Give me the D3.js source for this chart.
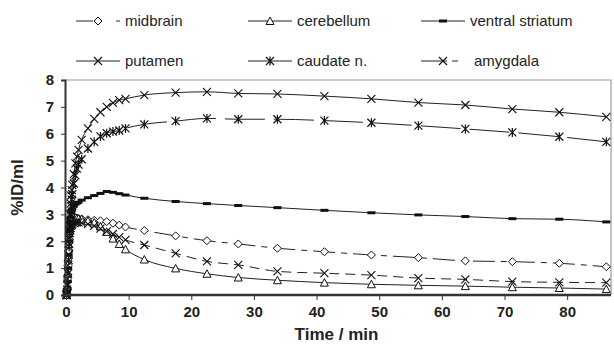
<!DOCTYPE html>
<html>
<head>
<meta charset="utf-8">
<script src="https://cdn.jsdelivr.net/npm/d3@7"></script>
<style>
  body { margin: 0; background: #fff; }
  svg { display: block; font-family: Arial, "Liberation Sans", sans-serif; }
</style>
</head>
<body>
<div id="chart"></div>
<script>
// frame mid-times in minutes
const times = [0.08, 0.17, 0.25, 0.33, 0.42, 0.5, 0.58, 0.67, 0.75, 0.83, 0.92, 1.0,
  1.25, 1.5, 1.75, 2.0, 2.5, 3.5, 4.5, 5.5, 6.5, 7.5, 8.5, 9.5,
  12.5, 17.5, 22.5, 27.5, 33.75, 41.25, 48.75, 56.25, 63.75, 71.25, 78.75, 86.25];

const midbrain = [0, 0.2, 0.6, 1.1, 1.6, 2.0, 2.3, 2.5, 2.65, 2.75, 2.8, 2.82,
  2.85, 2.85, 2.85, 2.84, 2.83, 2.8, 2.78, 2.76, 2.73, 2.67, 2.6, 2.53,
  2.4, 2.2, 2.02, 1.9, 1.74, 1.61, 1.49, 1.39, 1.27, 1.24, 1.18, 1.05];

const cerebellum = [0, 0.3, 0.8, 1.4, 1.9, 2.3, 2.6, 2.8, 2.9, 2.95, 2.95, 2.93,
  2.9, 2.88, 2.86, 2.84, 2.82, 2.76, 2.7, 2.55, 2.35, 2.1, 1.9, 1.7,
  1.32, 0.99, 0.79, 0.65, 0.55, 0.46, 0.4, 0.36, 0.33, 0.29, 0.26, 0.22];

const ventralStriatum = [0, 0.15, 0.5, 1.0, 1.5, 2.0, 2.4, 2.7, 2.9, 3.05, 3.15, 3.2,
  3.3, 3.38, 3.42, 3.45, 3.53, 3.62, 3.7, 3.78, 3.85, 3.82, 3.77, 3.72,
  3.6, 3.48, 3.4, 3.33, 3.25, 3.15, 3.06, 2.98, 2.92, 2.84, 2.82, 2.72];

const putamen = [0, 0.1, 0.4, 0.9, 1.5, 2.1, 2.6, 3.0, 3.4, 3.7, 3.9, 4.1,
  4.5, 4.9, 5.15, 5.4, 5.77, 6.2, 6.55, 6.8, 7.0, 7.15, 7.25, 7.3,
  7.44, 7.53, 7.56, 7.5, 7.48, 7.4, 7.3, 7.16, 7.07, 6.92, 6.8, 6.63];

const caudate = [0, 0.1, 0.35, 0.8, 1.3, 1.8, 2.3, 2.7, 3.0, 3.3, 3.55, 3.75,
  4.15, 4.45, 4.7, 4.85, 5.05, 5.45, 5.7, 5.9, 6.02, 6.08, 6.12, 6.2,
  6.35, 6.47, 6.57, 6.54, 6.54, 6.49, 6.41, 6.3, 6.18, 6.05, 5.89, 5.7];

const amygdala = [0, 0.2, 0.6, 1.1, 1.5, 1.9, 2.2, 2.4, 2.5, 2.58, 2.62, 2.65,
  2.68, 2.7, 2.7, 2.7, 2.68, 2.64, 2.57, 2.47, 2.37, 2.27, 2.15, 2.05,
  1.86, 1.55, 1.25, 1.12, 0.88, 0.81, 0.74, 0.63, 0.58, 0.5, 0.47, 0.46];

const seriesNames = ["midbrain", "cerebellum", "ventral striatum", "putamen", "caudate n.", "amygdala"];
const xTicks = [0, 10, 20, 30, 40, 50, 60, 70, 80];
const yTicks = [0, 1, 2, 3, 4, 5, 6, 7, 8];

const series = [
  {name: seriesNames[0], values: midbrain, marker: "diamond", dash: "22,6,6,6", legendDash: "17,23,5,20"},
  {name: seriesNames[1], values: cerebellum, marker: "triangle", dash: null, legendDash: null},
  {name: seriesNames[2], values: ventralStriatum, marker: "bar", dash: null, legendDash: null},
  {name: seriesNames[3], values: putamen, marker: "cross", dash: null, legendDash: null},
  {name: seriesNames[4], values: caudate, marker: "star", dash: "40,9", legendDash: null},
  {name: seriesNames[5], values: amygdala, marker: "cross", dash: "10,6", legendDash: "26,5,6,20"}
];

const W = 614, H = 345;
const mLeft = 65, mRight = 611, mTop = 80, mBottom = 295;

const svg = d3.select("#chart").append("svg")
  .attr("width", W).attr("height", H);

const x = d3.scaleLinear().domain([0, 87]).range([mLeft + 1, mRight]);
const y = d3.scaleLinear().domain([0, 8]).range([mBottom, mTop]);

// plot frame (top / right in grey)
svg.append("path")
  .attr("d", `M${mLeft},${mTop}H${mRight}V${mBottom}`)
  .attr("fill", "none").attr("stroke", "#999").attr("stroke-width", 1.2);

function drawMarker(g, type, cx, cy) {
  const s = 4;
  if (type === "diamond") {
    g.append("path").attr("d", `M${cx},${cy - s}L${cx + s},${cy}L${cx},${cy + s}L${cx - s},${cy}Z`)
      .attr("fill", "#fff").attr("stroke", "#111").attr("stroke-width", 1);
  } else if (type === "triangle") {
    g.append("path").attr("d", `M${cx},${cy - s}L${cx + s},${cy + s - 0.5}L${cx - s},${cy + s - 0.5}Z`)
      .attr("fill", "#fff").attr("stroke", "#111").attr("stroke-width", 1);
  } else if (type === "bar") {
    g.append("rect").attr("x", cx - 4).attr("y", cy - 1.5).attr("width", 8).attr("height", 3)
      .attr("fill", "#111");
  } else if (type === "cross") {
    g.append("path").attr("d", `M${cx - s},${cy - s}L${cx + s},${cy + s}M${cx - s},${cy + s}L${cx + s},${cy - s}`)
      .attr("stroke", "#111").attr("stroke-width", 1.1);
  } else if (type === "star") {
    g.append("path").attr("d", `M${cx - s},${cy - s}L${cx + s},${cy + s}M${cx - s},${cy + s}L${cx + s},${cy - s}M${cx},${cy - s - 0.5}V${cy + s + 0.5}`)
      .attr("stroke", "#111").attr("stroke-width", 1.2);
  }
}

const line = d3.line()
  .x((d, i) => x(times[i]))
  .y(d => y(d))
  .curve(d3.curveMonotoneX);

const plot = svg.append("g");

series.forEach(s => {
  plot.append("path")
    .datum(s.values)
    .attr("d", line)
    .attr("fill", "none")
    .attr("stroke", "#222")
    .attr("stroke-width", 1)
    .attr("stroke-dasharray", s.dash);
});

series.forEach(s => {
  const g = plot.append("g");
  s.values.forEach((v, i) => drawMarker(g, s.marker, x(times[i]), y(v)));
});

// axes
const yAxis = svg.append("g")
  .attr("transform", `translate(${mLeft},0)`)
  .call(d3.axisLeft(y).tickValues(yTicks).tickSize(4).tickPadding(7).tickFormat(d3.format("d")));
yAxis.select(".domain").attr("stroke", "#333").attr("stroke-width", 2);
yAxis.selectAll(".tick line").attr("stroke", "#333");
yAxis.selectAll("text").attr("font-size", 15).attr("font-weight", "bold").attr("fill", "#222")
  .attr("font-family", "Arial, 'Liberation Sans', sans-serif");

const xAxis = svg.append("g")
  .attr("transform", `translate(0,${mBottom})`)
  .call(d3.axisBottom(x).tickValues(xTicks).tickSize(5).tickPadding(6).tickSizeOuter(0));
xAxis.select(".domain").attr("stroke", "#333").attr("stroke-width", 2.5)
  .attr("d", `M${mLeft},0H${mRight}`);
xAxis.selectAll(".tick line").attr("stroke", "#333");
xAxis.selectAll("text").attr("font-size", 15).attr("font-weight", "bold").attr("fill", "#222")
  .attr("font-family", "Arial, 'Liberation Sans', sans-serif");

svg.append("text")
  .attr("x", (x(0) + x(87)) / 2 - 2).attr("y", 340)
  .attr("text-anchor", "middle").attr("font-size", 17).attr("font-weight", "bold").attr("fill", "#222")
  .text("Time / min");

svg.append("text")
  .attr("transform", `translate(23,${(mTop + mBottom) / 2}) rotate(-90)`)
  .attr("text-anchor", "middle").attr("font-size", 17).attr("font-weight", "bold").attr("fill", "#222")
  .text("%ID/ml");

// legend: 3 columns x 2 rows
const legendX = [76, 248, 421];
const legendY = [21, 61];
series.forEach((s, i) => {
  const lx = legendX[i % 3], ly = legendY[Math.floor(i / 3)];
  const g = svg.append("g");
  g.append("line").attr("x1", lx).attr("x2", lx + 44).attr("y1", ly).attr("y2", ly)
    .attr("stroke", "#222").attr("stroke-width", 1)
    .attr("stroke-dasharray", s.legendDash);
  drawMarker(g, s.marker, lx + 22, ly);
  g.append("text").attr("x", lx + (s.name === "amygdala" ? 53 : 49)).attr("y", ly + 5)
    .attr("font-size", 15).attr("fill", "#222").text(s.name);
});
</script>
</body>
</html>
